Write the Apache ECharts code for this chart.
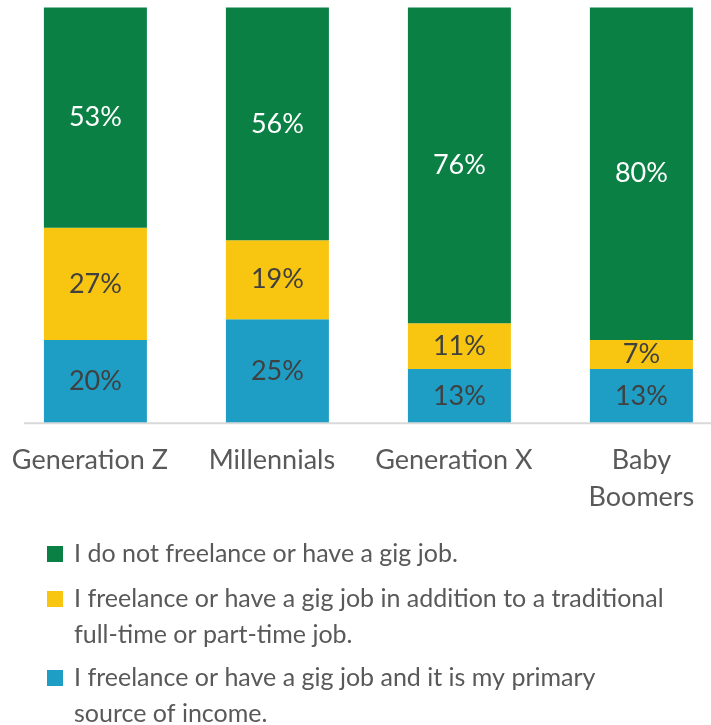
<!DOCTYPE html>
<html>
<head>
<meta charset="utf-8">
<script src="https://cdn.jsdelivr.net/npm/echarts@6/dist/echarts.min.js"></script>
<style>
  html, body { margin: 0; padding: 0; background: #fff; overflow: hidden; }
  /* the plot runs a little past the right edge of the page */
  #chart { width: 733px; height: 725px; }
</style>
</head>
<body>
<div id="chart"></div>
<script>
// Generations on the x axis
const generations = ['Generation Z', 'Millennials', 'Generation X', 'Baby\nBoomers'];

// Share of respondents (%) in each group
const primaryIncome = [20, 25, 13, 13];
const alongsideJob = [27, 19, 11, 7];
const noGigWork = [53, 56, 76, 80];

// Legend wording
const nameNoGig = 'I do not freelance or have a gig job.';
const nameAlongside = 'I freelance or have a gig job in addition to a traditional\nfull-time or part-time job.';
const namePrimary = 'I freelance or have a gig job and it is my primary\nsource of income.';

const FONT = 'Lato';
const GREEN = '#0a8045';
const YELLOW = '#f8c610';
const BLUE = '#1e9dc5';
const TEXT_GRAY = '#595959';
const LABEL_DARK = '#404040';

// Square swatch; for two-line entries the icon box is stretched downwards
// so the square sits level with the first line of text.
const SQUARE = 'rect';
const SQUARE_TOP = 'path://M0,0h16v16h-16z M0,52h0.01';

function barSeries(name, data, color, labelColor) {
  return {
    name: name,
    type: 'bar',
    stack: 'total',
    data: data,
    barWidth: 103,
    itemStyle: { color: color },
    label: {
      show: true,
      position: 'inside',
      formatter: '{c}%',
      color: labelColor,
      fontFamily: FONT,
      fontSize: 27
    }
  };
}

function legendEntry(name, top, icon, itemHeight) {
  return {
    orient: 'vertical',
    left: 47,
    top: top,
    padding: 0,
    itemWidth: 16,
    itemHeight: itemHeight,
    icon: icon,
    selectedMode: false,
    textStyle: {
      color: TEXT_GRAY,
      fontFamily: FONT,
      fontSize: 25,
      lineHeight: 36,
      padding: [0, 0, 0, 6]
    },
    data: [name]
  };
}

// Single-line category names sit slightly left of their bar centre
const categoryData = generations.map(function (g) {
  return g.indexOf('\n') >= 0
    ? { value: g }
    : { value: g, textStyle: { padding: [0, 11, 0, 0] } };
});

const chart = echarts.init(document.getElementById('chart'), null, { renderer: 'canvas' });

chart.setOption({
  animation: false,
  backgroundColor: '#ffffff',
  grid: { left: 4.4, right: 0.6, top: 7.5, bottom: 302, containLabel: false },
  xAxis: {
    type: 'category',
    data: categoryData,
    axisLine: { show: false },
    axisTick: { show: false },
    axisLabel: {
      color: TEXT_GRAY,
      fontFamily: FONT,
      fontSize: 27,
      lineHeight: 37,
      margin: 19,
      interval: 0
    }
  },
  yAxis: {
    type: 'value',
    min: 0,
    max: 100,
    show: false
  },
  legend: [
    legendEntry(nameNoGig, 536, SQUARE, 16),
    legendEntry(nameAlongside, 581, SQUARE_TOP, 52),
    legendEntry(namePrimary, 660, SQUARE_TOP, 52)
  ],
  graphic: [{
    type: 'line',
    z: 10,
    shape: { x1: 24, y1: 423.3, x2: 733, y2: 423.3 },
    style: { stroke: '#d9d9d9', lineWidth: 2 }
  }],
  series: [
    barSeries(namePrimary, primaryIncome, BLUE, LABEL_DARK),
    barSeries(nameAlongside, alongsideJob, YELLOW, LABEL_DARK),
    barSeries(nameNoGig, noGigWork, GREEN, '#ffffff')
  ]
});
</script>
</body>
</html>
